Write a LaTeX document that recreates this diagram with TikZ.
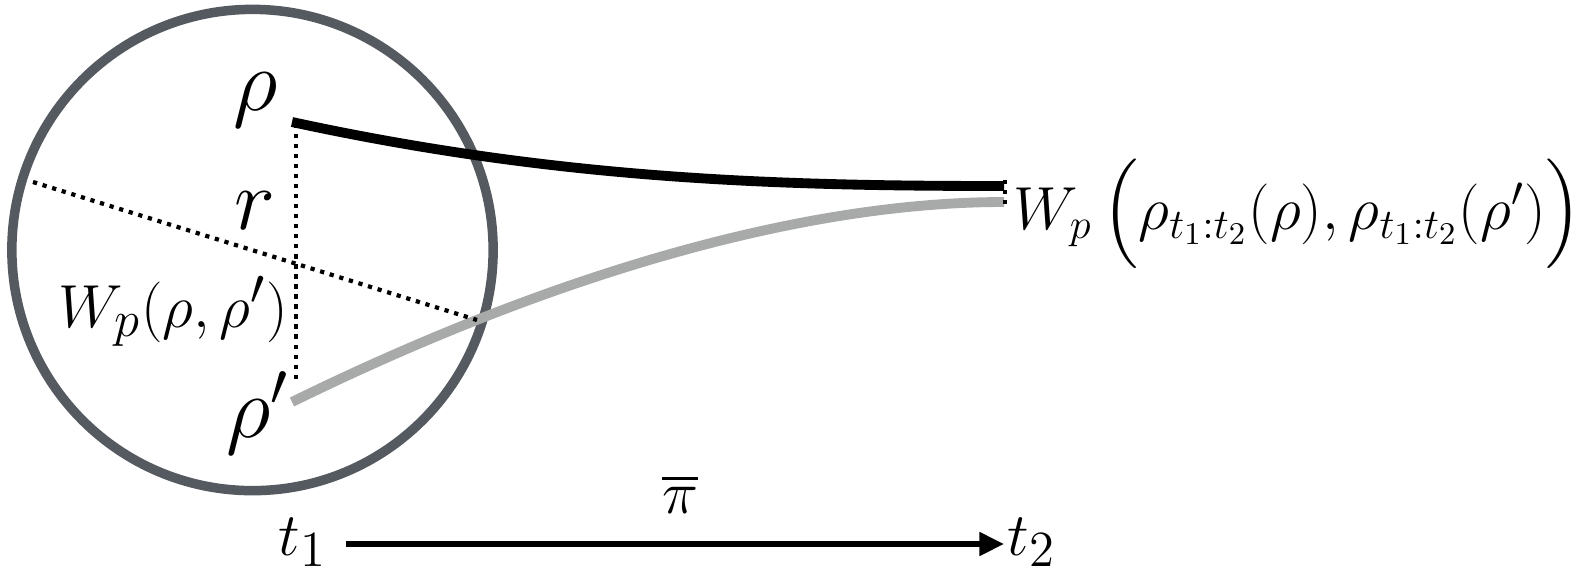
\documentclass[tikz,border=0pt]{standalone}
\usepackage{amsmath}
\usetikzlibrary{arrows.meta,calc}
\definecolor{circgray}{HTML}{555A61}
\definecolor{curvegray}{HTML}{A7AAA8}
\tikzset{
  lbl/.style={inner sep=0pt, anchor=base, font=\fontsize{19}{22}\selectfont},
  rlbl/.style={inner sep=0pt, anchor=base west, font=\fontsize{18.3}{22}\selectfont},
  biglbl/.style={inner sep=0pt, anchor=base, font=\fontsize{25}{30}\selectfont},
  dotline/.style={line width=1.2pt, dash pattern=on 1.2pt off 1.65pt},
  traj/.style={line width=2.8pt},
}
\begin{document}
\begin{tikzpicture}[x=0.01cm,y=-0.01cm]
\useasboundingbox (0,0) rectangle (1582,578);
\node[draw=circgray, line width=2.7pt, circle, minimum size=4.81cm, inner sep=0pt] (ball) at (252.5,250) {};
% coordinates
\coordinate (p1) at (292,122);
\coordinate (p2) at (292,402);
\coordinate (q1) at (1004,186);
\coordinate (q2) at (1004,202);
\coordinate (d1) at (33,182);
\coordinate (d2) at (477,320);
\coordinate (v1) at (296,124);
\coordinate (v2) at (296,383);
\coordinate (e1) at (1005,180);
\coordinate (e2) at (1005,207);
\coordinate (a1) at (346,544);
\coordinate (a2) at (1004,544);
% trajectories
\draw[traj, curvegray] (p2) .. controls (520,290) and (780,202) .. (q2);
\draw[traj, black] (p1) .. controls (560,180) and (780,186) .. (q1);
% dotted lines
\draw[dotline] (d1) -- (d2);
\draw[dotline] (v1) -- (v2);
\draw[dotline] (e1) -- (e2);
% labels
\node[biglbl] (rho) at (256,110) {$\rho$};
\node[biglbl] (r) at (255,229) {$r$};
\node[lbl] (wp) at (173,327) {$W_p(\rho,\rho')$};
\node[biglbl] (rhop) at (258,437) {$\rho'$};
\node[rlbl] (wpt) at (1013,229) {$W_p\,\Big(\rho_{t_1:t_2}(\rho),\rho_{t_1:t_2}(\rho')\Big)$};
% time arrow
\node[lbl] (t1) at (303,555) {$t_1$};
\node[lbl] (t2) at (1032,555) {$t_2$};
\node[lbl] (pi) at (680,513) {$\overline{\pi}$};
\draw[line width=1.5pt, -{Triangle[length=7pt,width=6.5pt]}] (a1) -- (a2);
\end{tikzpicture}
\end{document}
